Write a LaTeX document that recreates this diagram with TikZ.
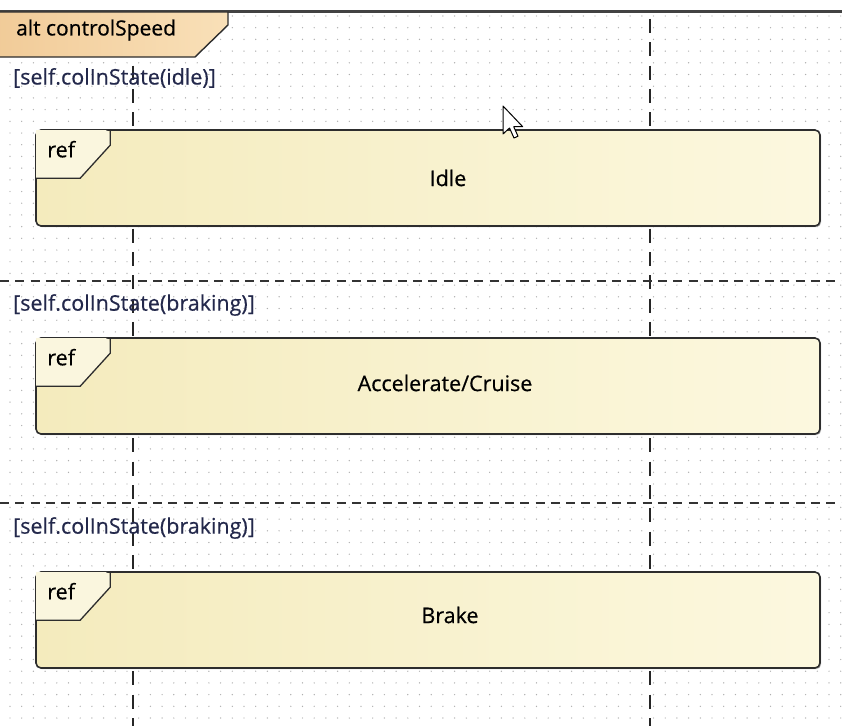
\documentclass[tikz,border=0pt]{standalone}
\usepackage{fontspec}
\setmainfont{Open Sans}[FakeBold=0.5]
\usetikzlibrary{positioning,calc,shadows}
\definecolor{altL}{RGB}{241,203,152}
\definecolor{altR}{RGB}{249,224,184}
\definecolor{refL}{RGB}{244,235,189}
\definecolor{refR}{RGB}{252,248,223}
\definecolor{tagfill}{RGB}{250,246,222}
\definecolor{boxline}{RGB}{45,45,45}
\definecolor{guardtext}{RGB}{35,40,75}
\definecolor{griddot}{RGB}{175,175,175}

\begin{document}
\begin{tikzpicture}[
  x=1pt, y=-1pt,
  every node/.style={font=\fontsize{21.5}{25}\selectfont},
  refbox/.style={draw=boxline, line width=1.6pt, rounded corners=5pt,
    left color=refL, right color=refR, minimum width=784pt, minimum height=96pt,
    inner sep=0pt, drop shadow={shadow xshift=1.2pt, shadow yshift=-1.2pt, fill=black!45, opacity=0.6}},
  guard/.style={anchor=west, inner sep=0pt, text=guardtext},
  lifeline/.style={draw=black!85, line width=1.8pt, dash pattern=on 14pt off 9.3pt},
  sepline/.style={draw=black!80, line width=1.5pt, dash pattern=on 9pt off 6.3pt},
]
\useasboundingbox (0,0) rectangle (842,725);
\fill[white] (0,0) rectangle (842,725);

% dot grid
\foreach \i in {0,...,71}
  \foreach \j in {0,...,60}
    \fill[griddot] (10+11.7*\i, 16+11.7*\j) circle (0.7pt);

% lifelines
\coordinate (la top) at (133,19);
\coordinate (la end) at (133,730);
\coordinate (lb top) at (650,19);
\coordinate (lb end) at (650,730);
\draw[lifeline] (la top) -- (la end);
\draw[lifeline] (lb top) -- (lb end);

% operand separators
\coordinate (s1 w) at (0,281);
\coordinate (s1 e) at (845,281);
\coordinate (s2 w) at (0,503);
\coordinate (s2 e) at (845,503);
\draw[sepline] (s1 w) -- (s1 e);
\draw[sepline] (s2 w) -- (s2 e);

% frame and its tag
\draw[boxline!90, line width=2.4pt] (-5,11.5) -- (850,11.5);
\draw[boxline, line width=1.4pt, left color=altL, right color=altR]
  (-5,12) -- (228,12) -- (228,25) -- (195,57) -- (-5,57) -- cycle;
\node[anchor=west, inner sep=0pt, font=\fontsize{21}{25}\selectfont] (alt) at (16,30) {alt controlSpeed};

% guards
\node[guard] (g idle) at (13,78) {[self.colInState(idle)]};
\node[guard] (g accel) at (13,305) {[self.colInState(braking)]};
\node[guard] (g brake) at (13,528) {[self.colInState(braking)]};

% interaction uses
\node[refbox] (idle) at (428,178) {};
\node[refbox] (accel) at (428,386) {};
\node[refbox] (brake) at (428,620) {};

\foreach \b in {idle,accel,brake} {
  \fill[tagfill, rounded corners=5pt] ($(\b.north west)+(0.8,0.8)$) -- ($(\b.north west)+(75,0.8)$)
    [sharp corners] -- ($(\b.north west)+(75,16)$) -- ($(\b.north west)+(45,49)$)
    -- ($(\b.north west)+(0.8,49)$) -- cycle;
  \draw[boxline, line width=1.3pt] ($(\b.north west)+(75,0)$) -- ($(\b.north west)+(75,16)$)
    -- ($(\b.north west)+(45,49)$) -- ($(\b.north west)+(0,49)$);
  \node[anchor=center] at ($(\b.north west)+(26,20)$) {ref};
}

\node at (448,178) {Idle};
\node at (445,383) {Accelerate/Cruise};
\node at (450,615) {Brake};

% mouse pointer
\draw[black, line width=1pt, fill=white, line join=round]
  (503,106) -- ++(0,28) -- ++(6.5,-6) -- ++(4.5,10) -- ++(4,-1.8)
  -- ++(-4.3,-9.5) -- ++(9,0) -- cycle;
\end{tikzpicture}
\end{document}
